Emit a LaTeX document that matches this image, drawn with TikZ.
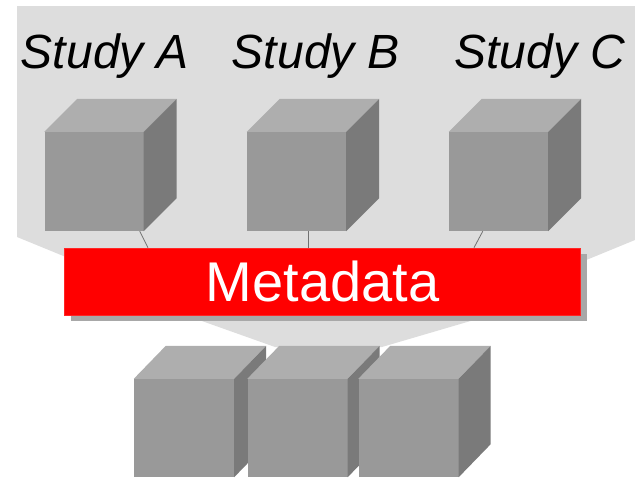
\documentclass[tikz,border=0pt]{standalone}
\usepackage{fontspec}
\setmainfont{Liberation Sans}
\usetikzlibrary{shadows}

\definecolor{panel}{HTML}{DDDDDD}
\definecolor{cubefront}{HTML}{999999}
\definecolor{cubetop}{HTML}{AEAEAE}
\definecolor{cubeside}{HTML}{7A7A7A}
\definecolor{shadowgray}{HTML}{A8A8A8}
\definecolor{metared}{HTML}{FF0000}
\definecolor{linkgray}{HTML}{707070}

\tikzset{
  frontface/.style={fill=cubefront, inner sep=0pt, minimum width=99pt, minimum height=99pt},
  lowfront/.style={frontface, minimum width=100pt, minimum height=98pt},
  topface/.style={fill=cubetop},
  sideface/.style={fill=cubeside},
  studylabel/.style={anchor=base, inner sep=0pt, font=\fontsize{48}{58}\selectfont\itshape},
  metabox/.style={fill=metared, draw=metared!85!white, line width=0.6pt,
    minimum width=516pt, minimum height=67pt, inner sep=0pt, text=white,
    font=\fontsize{56}{66}\selectfont,
    drop shadow={shadow xshift=6pt, shadow yshift=-6pt, opacity=1, fill=shadowgray}},
  link/.style={draw=linkgray, line width=0.8pt},
}

% top and right faces of a cube whose front face is the node #1
\newcommand\cubedepth[3]{%
  \fill[topface] (#1.north west) -- ++(#2,-#3) -- ([shift={(#2,-#3)}]#1.north east) -- (#1.north east) -- cycle;
  \fill[sideface] (#1.north east) -- ++(#2,-#3) -- ([shift={(#2,-#3)}]#1.south east) -- (#1.south east) -- cycle;}

\begin{document}
\begin{tikzpicture}[x=1pt, y=-1pt]
\useasboundingbox (0,0) rectangle (635,479);

% grey funnel panel behind the studies
\fill[panel] (17,6) -- (635,6) -- (635,240) -- (540,279) -- (491,315) -- (382,347)
  -- (275,347) -- (185,315) -- (100,271) -- (17,237) -- cycle;

% study labels
\node[studylabel] (la) at (105,68) {Study A};
\node[studylabel] (lb) at (316,68) {Study B};
\node[studylabel] (lc) at (540,68) {Study C};

% study cubes
\node[frontface] (ca) at (94,181.5) {};
\cubedepth{ca}{33}{33}
\node[frontface] (cb) at (296.5,181.5) {};
\cubedepth{cb}{33}{33}
\node[frontface] (cc) at (498.5,181.5) {};
\cubedepth{cc}{33}{33}

% metadata layer
\node[metabox] (meta) at (322.5,281.5) {Metadata};

% links from studies to metadata
\draw[link] ([xshift=-4pt]ca.south east) -- ([xshift=-174.5pt]meta.north);
\draw[link] ([xshift=11.5pt]cb.south) -- ([xshift=-14.5pt]meta.north);
\draw[link] ([xshift=34pt]cc.south west) -- ([xshift=151.5pt]meta.north);

% combined store
\node[lowfront] (d1) at (184,428) {};
\cubedepth{d1}{32}{33}
\node[lowfront] (d2) at (297.5,428) {};
\cubedepth{d2}{32}{33}
\node[lowfront] (d3) at (408.5,428) {};
\cubedepth{d3}{32}{33}
\end{tikzpicture}
\end{document}
